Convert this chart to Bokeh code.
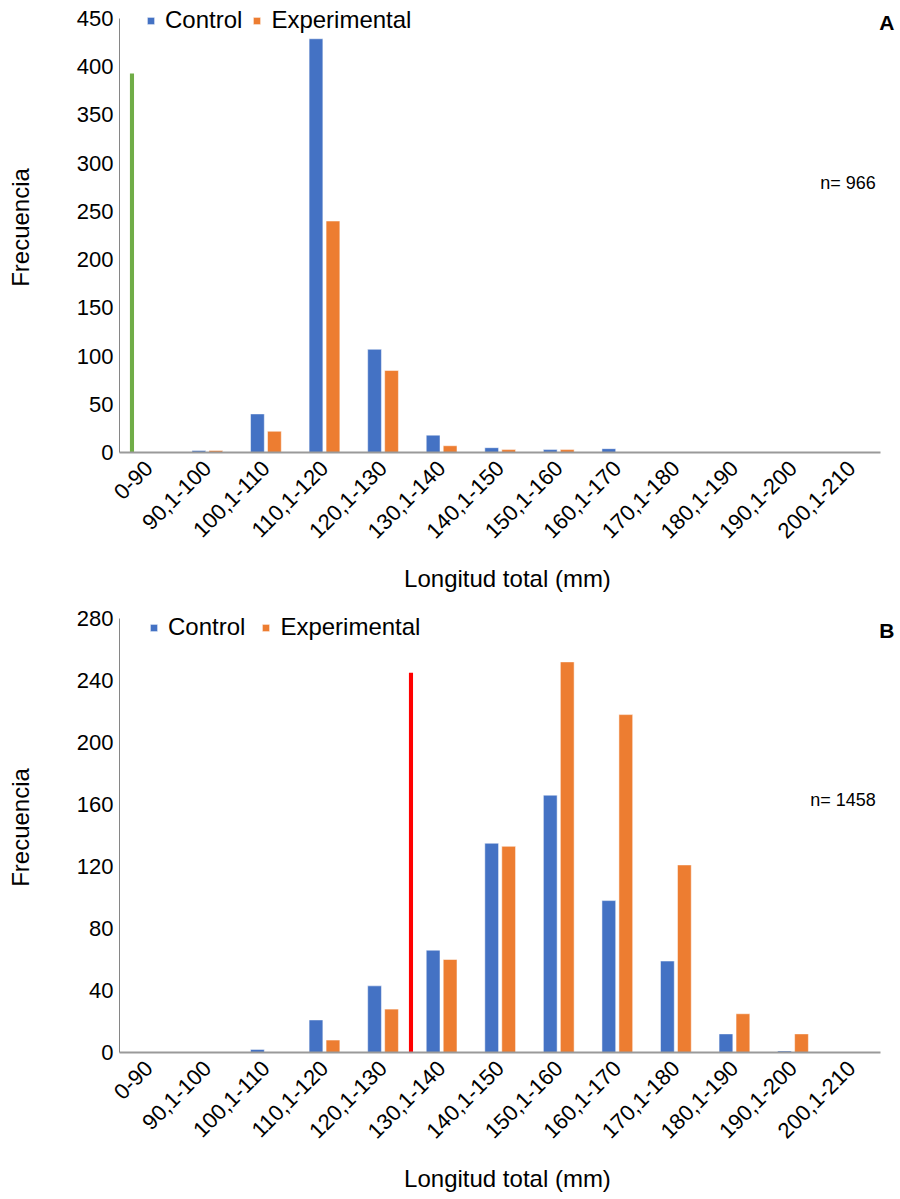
from bokeh.plotting import figure
from bokeh.models import ColumnDataSource, Range1d, Legend, LegendItem, Label, FixedTicker
from bokeh.transform import dodge
from bokeh.layouts import column
from bokeh.embed import file_html
from bokeh.resources import INLINE
import math

categories = ["0-90", "90,1-100", "100,1-110", "110,1-120", "120,1-130", "130,1-140",
              "140,1-150", "150,1-160", "160,1-170", "170,1-180", "180,1-190",
              "190,1-200", "200,1-210"]

control_a = [0, 2, 40, 429, 107, 18, 5, 3, 4, 0, 0, 0, 0]
experimental_a = [0, 2, 22, 240, 85, 7, 3, 3, 0, 0, 0, 0, 0]
marker_a_cat = "0-90"
marker_a_val = 393

control_b = [0, 0, 2, 21, 43, 66, 135, 166, 98, 59, 12, 1, 0]
experimental_b = [0, 0, 0, 8, 28, 60, 133, 252, 218, 121, 25, 12, 0]
marker_b_cat = "120,1-130"
marker_b_val = 245

BLUE = "#4472C4"
ORANGE = "#ED7D31"
FONT = "Liberation Sans"
FRAME_H = 450          # frame height in px
AXIS_H = 434           # px used by the 0..ymax axis


def make_chart(ctrl, exp, mcat, mval, mcolor, moffset, ymax, ystep, letter, letter_dy,
               ntext, ny, height, legend_xy, legend_spacing):
    idx = list(range(len(categories)))
    ytop = ymax * FRAME_H / AXIS_H
    p = figure(x_range=Range1d(-0.5, 12.75), y_range=Range1d(0, ytop),
               width=898, height=height, output_backend="svg", toolbar_location=None,
               min_border_left=119, min_border_right=3, min_border_top=2,
               min_border_bottom=height - 2 - FRAME_H)
    p.outline_line_color = None
    p.xgrid.grid_line_color = None
    p.ygrid.grid_line_color = None

    src = ColumnDataSource(dict(x=idx, cat=categories, ctrl=ctrl, exp=exp))
    r1 = p.vbar(x=dodge("x", -0.145), top="ctrl", width=0.235,
                source=src, fill_color=BLUE, line_color="white", line_width=0.5)
    r2 = p.vbar(x=dodge("x", 0.145), top="exp", width=0.235,
                source=src, fill_color=ORANGE, line_color="white", line_width=0.5)
    msrc = ColumnDataSource(dict(x=[categories.index(mcat)], val=[mval]))
    p.vbar(x=dodge("x", moffset), top="val", width=0.07,
           source=msrc, fill_color=mcolor, line_color=None)

    p.yaxis.ticker = FixedTicker(ticks=list(range(0, ymax + 1, ystep)))
    p.yaxis.bounds = (0, ymax)
    p.xaxis.ticker = FixedTicker(ticks=idx)
    p.xaxis.major_label_overrides = {i: c for i, c in zip(idx, categories)}
    p.xaxis.bounds = (-0.5, 12.5)
    for ax in (p.xaxis, p.yaxis):
        ax.major_tick_line_color = None
        ax.minor_tick_line_color = None
        ax.major_label_text_font = FONT
        ax.major_label_text_font_size = "22px"
        ax.major_label_text_color = "#000000"
        ax.axis_label_text_font = FONT
        ax.axis_label_text_font_size = "24px"
        ax.axis_label_text_font_style = "normal"
        ax.axis_label_text_color = "#000000"
    p.yaxis.axis_line_color = "#868686"
    p.yaxis.axis_line_width = 1
    p.xaxis.axis_line_color = "#9a9a9a"
    p.xaxis.axis_line_width = 2
    p.xaxis.major_label_orientation = math.pi / 4
    p.xaxis.axis_label = "Longitud total (mm)"
    p.yaxis.axis_label = "Frecuencia"
    p.xaxis.major_label_standoff = 6
    p.yaxis.major_label_standoff = 0
    p.xaxis.axis_label_standoff = 17
    p.yaxis.axis_label_standoff = 40

    legend = Legend(items=[LegendItem(label="Control", renderers=[r1]),
                           LegendItem(label="Experimental", renderers=[r2])],
                    orientation="horizontal", location=legend_xy,
                    glyph_width=9, glyph_height=9, label_standoff=10,
                    spacing=legend_spacing,
                    padding=0, margin=0, border_line_color=None,
                    background_fill_alpha=0, label_text_font=FONT,
                    label_text_font_size="24px", label_text_color="#000000")
    p.add_layout(legend, "center")

    p.add_layout(Label(x=12.75, y=ymax, x_offset=-1, y_offset=letter_dy, text=letter,
                       text_align="right", text_baseline="middle", text_font=FONT,
                       text_font_size="21px", text_font_style="bold",
                       text_color="#000000"))
    p.add_layout(Label(x=12.5, y=ny, x_offset=-5, text=ntext, text_align="right",
                       text_baseline="middle", text_font=FONT, text_font_size="18px",
                       text_color="#000000"))
    return p


pa = make_chart(control_a, experimental_a, marker_a_cat, marker_a_val, "#70AD47", -0.287,
                450, 50, "A", -4, "n= 966", 279, 600, (27, 418), 10)
pb = make_chart(control_b, experimental_b, marker_b_cat, marker_b_val, "#FF0000", 0.477,
                280, 40, "B", -12, "n= 1458", 163, 597, (30, 411), 16)

layout = column(pa, pb, spacing=0)
open("out.html", "w").write(file_html(layout, INLINE))
